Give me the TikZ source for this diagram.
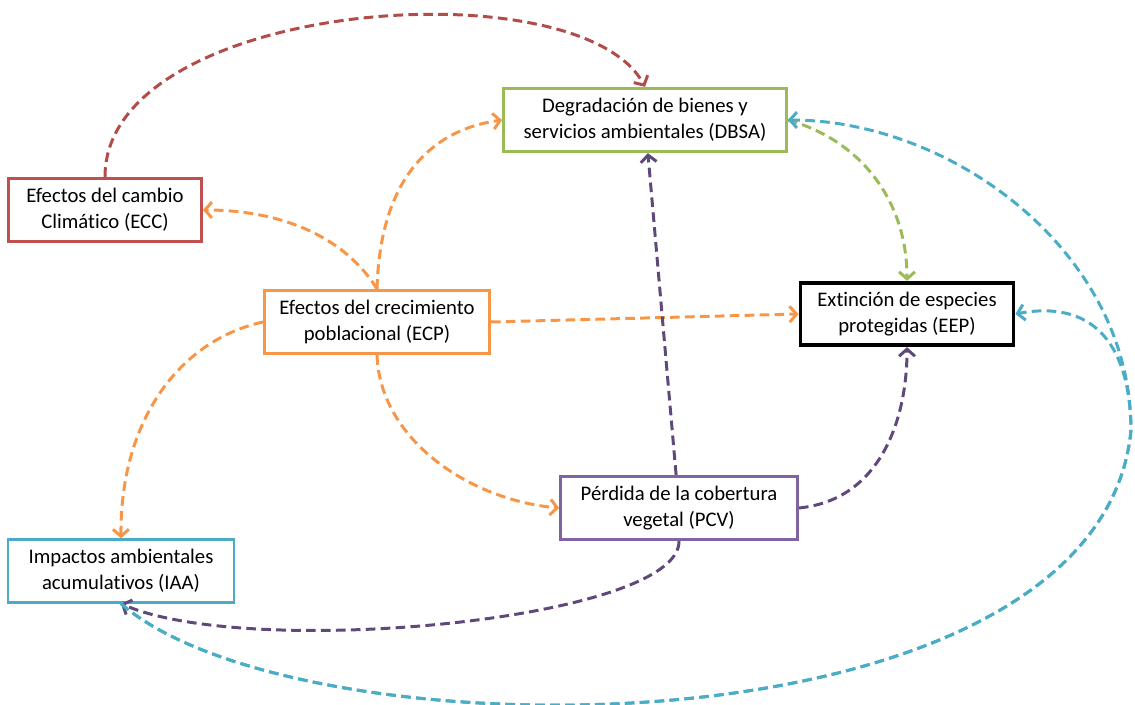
\documentclass[tikz,border=0pt]{standalone}
\usepackage{fontspec}
\setmainfont[Ligatures=NoCommon]{Carlito}
\usepackage{tikz}
\usetikzlibrary{arrows.meta}
\definecolor{RedBox}{HTML}{C0504D}
\definecolor{RedLine}{HTML}{B24C49}
\definecolor{GreenBox}{HTML}{9BBB59}
\definecolor{OrangeBox}{HTML}{F79646}
\definecolor{PurpleBox}{HTML}{8064A2}
\definecolor{PurpleLine}{HTML}{5F497A}
\definecolor{TealBox}{HTML}{4BACC6}
\tikzset{every picture/.style={/utils/exec={\fontsize{11.8}{14.7}\selectfont}}}

\begin{document}
\begin{tikzpicture}[x=0.02cm, y=-0.02cm, >={Straight Barb[length=4pt,width=9pt]},
        box/.style={draw, line width=1.6pt, fill=white, align=center, minimum height=1.27cm, inner sep=2pt},
        link/.style={->, line width=1.7pt, dash pattern=on 5.5pt off 3pt}]
        \useasboundingbox (0,0) rectangle (1135,705);

        % Nodes
        \node[box, draw=GreenBox, minimum width=5.66cm] (DBSA) at (645,120) {Degradación de bienes y\\servicios ambientales (DBSA)};
        \node[box, draw=RedBox, minimum width=3.86cm] (ECC) at (105,210) {Efectos del cambio\\Climático (ECC)};
        \node[box, draw=OrangeBox, minimum width=4.5cm] (ECP) at (377,322) {Efectos del crecimiento\\poblacional (ECP)};
        \node[box, draw=black, line width=2.2pt, minimum width=4.26cm, minimum height=1.25cm] (EEP) at (907,314) {Extinción de especies\\protegidas (EEP)};
        \node[box, draw=PurpleBox, minimum width=4.74cm] (PCV) at (679,508) {Pérdida de la cobertura\\vegetal (PCV)};
        \node[box, draw=TealBox, minimum width=4.52cm, minimum height=1.25cm] (IAA) at (121,571) {Impactos ambientales\\acumulativos (IAA)};

        \coordinate (tj) at (1131,430);

        % Directed edges
        \draw[link, RedLine] (ECC.north) .. controls (105,0) and (580,-35) .. (DBSA.north);
        \draw[link, OrangeBox] (ECP.north) .. controls (380,180) and (430,130) .. (DBSA.west);
        \draw[link, OrangeBox] (ECP.north) .. controls (340,230) and (270,210) .. (ECC.east);
        \draw[link, OrangeBox] (ECP.east) -- (EEP.west);
        \draw[link, OrangeBox] (ECP.west) .. controls (180,340) and (120,420) .. (IAA.north);
        \draw[link, OrangeBox] (ECP.south) .. controls (380,440) and (470,500) .. (PCV.west);
        \draw[link, PurpleLine] (PCV) -- (DBSA);
        \draw[link, PurpleLine] (PCV.east) .. controls (880,500) and (907,420) .. (EEP.south);
        \draw[link, PurpleLine] (PCV.south) .. controls (680,620) and (250,660) .. (IAA.south);
        \draw[link, GreenBox] (DBSA.east) .. controls (860,140) and (907,200) .. (EEP.north);
        \draw[link, TealBox] (IAA.south) .. controls (300,760) and (1100,760) .. (tj)
            .. controls (1131,250) and (950,120) .. (DBSA.east);
        \draw[link, TealBox] (IAA.south) .. controls (300,760) and (1100,760) .. (tj)
            .. controls (1130,340) and (1090,300) .. (EEP.east);
    \end{tikzpicture}
\end{document}
